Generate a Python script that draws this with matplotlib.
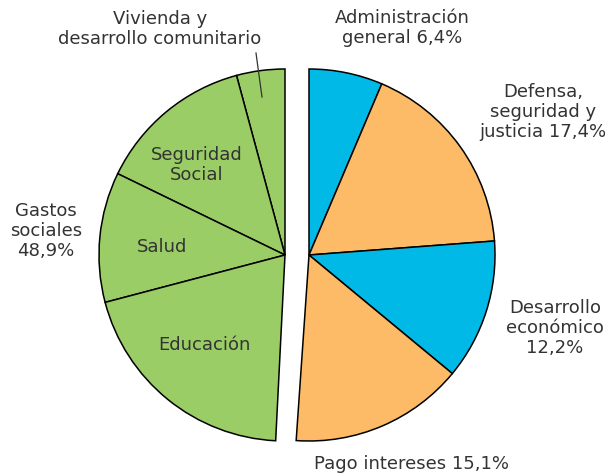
import numpy as np
import matplotlib
matplotlib.use('Agg')
import matplotlib.pyplot as plt

# right part (clockwise from 12 o'clock)
right_labels = ["Administración general", "Defensa, seguridad y justicia",
                "Desarrollo económico", "Pago intereses"]
right_values = [6.4, 17.4, 12.2, 15.1]
right_colors = ["#00b9e6", "#fdbb67", "#00b9e6", "#fdbb67"]

# social spending (counter-clockwise from 12 o'clock), total 48,9%
social_labels = ["Vivienda y desarrollo comunitario", "Seguridad Social", "Salud", "Educación"]
social_values = [4.2, 13.6, 11.3, 20.1]
social_total = 48.9
green = "#9bcd67"

txt = "#333333"
fs = 13

fig = plt.figure(figsize=(6.11, 4.76), dpi=100)
ax = fig.add_axes([0, 0, 1, 1])

R = 186
wp = dict(edgecolor='black', linewidth=1.1)

w1, _ = ax.pie(right_values + [social_total], colors=right_colors + ['w'],
               startangle=90, counterclock=False, radius=R, center=(309, 221),
               wedgeprops=wp, frame=True)
w1[-1].set_visible(False)

w2, _ = ax.pie(social_values + [100 - sum(social_values)], colors=[green] * 4 + ['w'],
               startangle=90, counterclock=True, radius=R, center=(285, 221),
               wedgeprops=wp, frame=True)
w2[-1].set_visible(False)
ax.set_xlim(0, 611)
ax.set_ylim(0, 476)
ax.set_aspect('equal')
ax.axis('off')

def T(x, y, s, **kw):
    ax.text(x, 476 - y, s, ha='center', va='center', fontsize=fs, color=txt,
            linespacing=1.12, **kw)

T(160, 29, "Vivienda y\ndesarrollo comunitario")
ax.plot([256, 262], [476 - 53, 476 - 97], color='#333333', lw=0.9)
T(402, 28, "Administración\ngeneral 6,4%")
T(543, 112, "Defensa,\nseguridad y\njusticia 17,4%")
T(555, 328, "Desarrollo\neconómico\n12,2%")
T(412, 464, "Pago intereses 15,1%")
T(46, 231, "Gastos\nsociales\n48,9%")
T(197, 165, "Seguridad\nSocial")
T(162, 247, "Salud")
T(204, 345, "Educación")

fig.savefig('out.png', dpi=100)
